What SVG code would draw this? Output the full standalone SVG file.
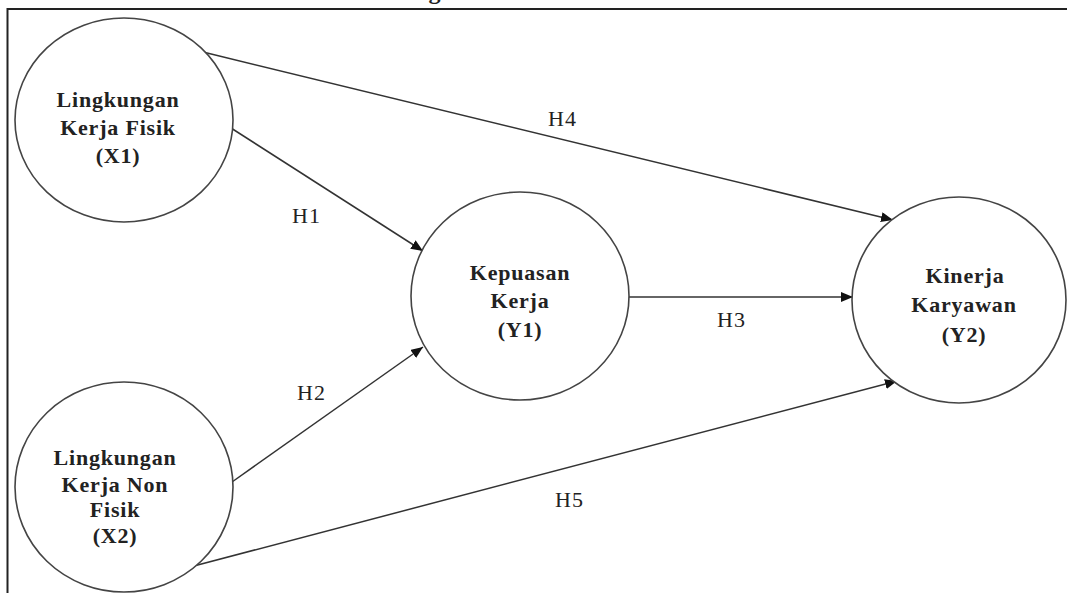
<svg xmlns="http://www.w3.org/2000/svg" width="1067" height="593" viewBox="0 0 1067 593">
  <defs>
    <marker id="arr" viewBox="0 0 12 10" refX="12" refY="5" markerWidth="12" markerHeight="10" markerUnits="userSpaceOnUse" orient="auto">
      <path d="M0,0 L12,5 L0,10 Z" fill="#111"/>
    </marker>
    <style>
      .node ellipse { fill: #ffffff; stroke: #444; stroke-width: 1.6; }
      .nt { font-family: "Liberation Serif", "Times New Roman", serif; font-weight: bold; font-size: 22px; fill: #222; text-anchor: middle; letter-spacing: 0.8px; }
      .edge { stroke: #333; stroke-width: 1.5; fill: none; marker-end: url(#arr); }
      .lbl { font-family: "Liberation Serif", "Times New Roman", serif; font-size: 22px; fill: #222; letter-spacing: 1px; }
      .frame { stroke: #222; stroke-width: 2; fill: none; }
    </style>
  </defs>
  <rect x="0" y="0" width="1067" height="593" fill="#ffffff"/>
  <text x="435" y="-1" class="nt" style="font-size:24px">g</text>
  <path class="frame" d="M7.5,593 L7.5,9 L1067,9"/>

  <g id="connectors">
    <line class="edge" x1="203" y1="52" x2="893" y2="220"/>
    <line class="edge" x1="231" y1="128" x2="423" y2="251"/>
    <line class="edge" x1="232" y1="482" x2="423" y2="347"/>
    <line class="edge" x1="629" y1="297" x2="853" y2="297"/>
    <line class="edge" x1="190" y1="567" x2="897" y2="381"/>
    <text class="lbl" x="548" y="126">H4</text>
    <text class="lbl" x="292" y="223">H1</text>
    <text class="lbl" x="297" y="400">H2</text>
    <text class="lbl" x="717" y="327">H3</text>
    <text class="lbl" x="555" y="507">H5</text>
  </g>

  <g id="X1" class="node">
    <ellipse cx="124" cy="120" rx="109" ry="102"/>
    <text class="nt" x="118" y="107">Lingkungan</text>
    <text class="nt" x="118" y="135">Kerja Fisik</text>
    <text class="nt" x="118" y="163">(X1)</text>
  </g>

  <g id="X2" class="node">
    <ellipse cx="124" cy="487" rx="109" ry="105"/>
    <text class="nt" x="115" y="465">Lingkungan</text>
    <text class="nt" x="115" y="492">Kerja Non</text>
    <text class="nt" x="115" y="517">Fisik</text>
    <text class="nt" x="115" y="543">(X2)</text>
  </g>

  <g id="Y1" class="node">
    <ellipse cx="520" cy="296" rx="109" ry="104"/>
    <text class="nt" x="520" y="280">Kepuasan</text>
    <text class="nt" x="520" y="308">Kerja</text>
    <text class="nt" x="520" y="337">(Y1)</text>
  </g>

  <g id="Y2" class="node">
    <ellipse cx="959" cy="300" rx="107" ry="103"/>
    <text class="nt" x="965" y="283">Kinerja</text>
    <text class="nt" x="964" y="312">Karyawan</text>
    <text class="nt" x="964" y="342">(Y2)</text>
  </g>
</svg>
